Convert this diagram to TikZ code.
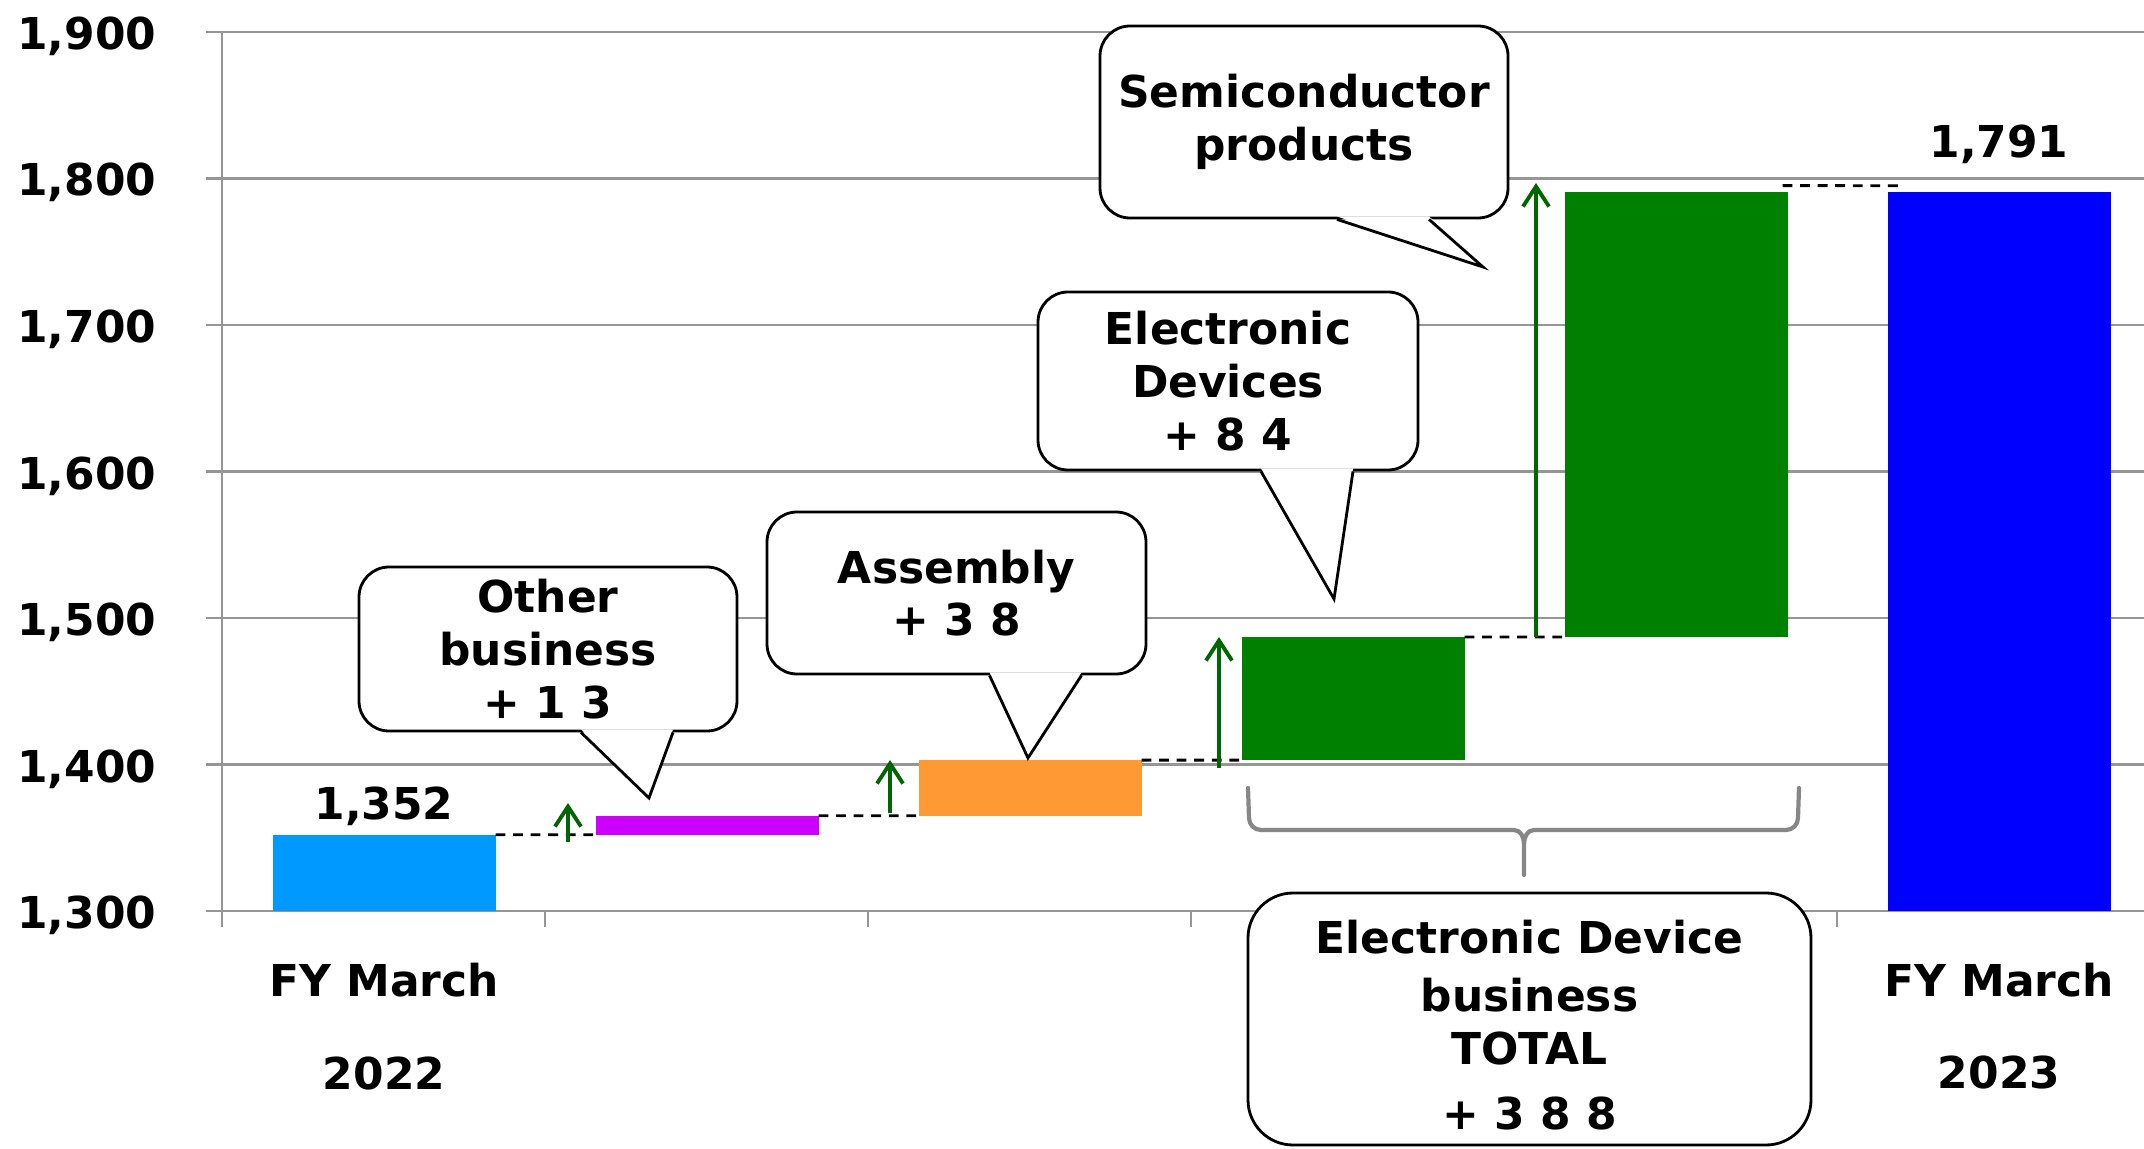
\documentclass[tikz,border=0pt]{standalone}
\usepackage{fontspec}
\setmainfont{DejaVu Sans}
\usepackage{tikz}
\usetikzlibrary{arrows.meta,positioning}
\definecolor{gridgray}{RGB}{150,150,150}
\definecolor{bracegray}{RGB}{135,135,135}
\definecolor{startblue}{RGB}{0,153,255}
\definecolor{othermag}{RGB}{204,0,255}
\definecolor{asmorange}{RGB}{255,153,51}
\definecolor{devgreen}{RGB}{0,128,0}
\definecolor{endblue}{RGB}{0,0,255}
\definecolor{risegreen}{RGB}{0,102,0}

% pointer of a speech bubble: box #1, tip #2
\newcommand{\calltip}[2]{%
  \fill[white] ([shift={(0.33,0.03)}]#1.south) -- (#2) -- ([shift={(1.25,0.03)}]#1.south) -- cycle;
  \draw[bline] ([xshift=3.3mm]#1.south) -- (#2) -- ([xshift=12.5mm]#1.south);}

\begin{document}
\begin{tikzpicture}[
  font=\fontsize{12.5}{15}\selectfont\bfseries,
  grid/.style={draw=gridgray,line width=0.6pt},
  bar/.style={anchor=south west,minimum width=2.23cm,inner sep=0pt,outer sep=0pt},
  link/.style={line width=0.8pt,dash pattern=on 2.8pt off 2.2pt},
  rise/.style={risegreen,line width=1.1pt,-{Straight Barb[length=2mm,width=2.6mm]}},
  bline/.style={line width=0.8pt,line join=miter},
  bubble/.style={draw,bline,fill=white,rounded corners=3mm,align=center,inner sep=0pt},
  brace/.style={bracegray,line width=1.2pt,line cap=round},
  lbl/.style={anchor=base,inner sep=0pt},
  ]
  \useasboundingbox (0,0) rectangle (21.44,11.48);
  % grid, axis
  \foreach \i/\t in {0/{1,300},1/{1,400},2/{1,500},3/{1,600},4/{1,700},5/{1,800},6/{1,900}}{
    \draw[grid] (2.06,2.37+1.465*\i) -- (21.44,2.37+1.465*\i);
    \node[anchor=base east,inner sep=0pt] (y\i) at (1.57,2.195+1.465*\i) {\t};
  }
  \draw[grid] (2.22,2.21) -- (2.22,11.165);
  \foreach \x in {5.45,8.68,11.91,15.14,18.37}
    \draw[grid] (\x,2.37) -- (\x,2.21);

  \node[bar,fill=startblue,minimum height=0.762cm] (b1) at (2.725,2.37) {};
  \node[bar,fill=othermag,minimum height=0.190cm]  (b2) at (5.955,3.132) {};
  \node[bar,fill=asmorange,minimum height=0.557cm] (b3) at (9.185,3.322) {};
  \node[bar,fill=devgreen,minimum height=1.231cm]  (b4) at (12.415,3.879) {};
  \node[bar,fill=devgreen,minimum height=4.454cm]  (b5) at (15.645,5.110) {};
  \node[bar,fill=endblue,minimum height=7.193cm]   (b6) at (18.875,2.37) {};

  \draw[link] (b1.north east) -- (b2.south west);
  \draw[link] (b2.north east) -- (b3.south west);
  \draw[link] (b3.north east) -- (b4.south west);
  \draw[link] (b4.north east) -- (b5.south west);
  \draw[link] ([shift={(-0.5mm,0.6mm)}]b5.north east) -- ([shift={(1.2mm,0.6mm)}]b6.north west);

  \coordinate (r1a) at (5.68,3.06);  \coordinate (r1b) at (5.68,3.45);
  \coordinate (r2a) at (8.90,3.35);  \coordinate (r2b) at (8.90,3.88);
  \coordinate (r3a) at (12.19,3.80); \coordinate (r3b) at (12.19,5.11);
  \coordinate (r4a) at (15.36,5.11); \coordinate (r4b) at (15.36,9.65);
  \draw[rise] (r1a) -- (r1b);
  \draw[rise] (r2a) -- (r2b);
  \draw[rise] (r3a) -- (r3b);
  \draw[rise] (r4a) -- (r4b);

  \node[lbl] (v1) at ([yshift=1.5mm]b1.north) {1,352};
  \node[lbl] (v6) at ([yshift=3.4mm]b6.north) {1,791};
  \node[lbl] (fy1) at (3.84,1.513) {FY March};
  \node[lbl] (yr1) at (3.84,0.583) {2022};
  \node[lbl] (fy2) at (19.99,1.513) {FY March};
  \node[lbl] (yr2) at (19.99,0.60) {2023};

  % brace under the device bars
  \draw[brace] (12.48,3.60) -- (12.49,3.30) to[out=-90,in=180] (12.61,3.18) -- (15.14,3.18)
    to[out=0,in=90] (15.24,3.04) -- (15.24,2.73);
  \draw[brace] (17.99,3.60) -- (17.98,3.30) to[out=-90,in=0] (17.86,3.18) -- (15.34,3.18)
    to[out=180,in=90] (15.24,3.04);

  \node[bubble,minimum width=3.78cm,minimum height=1.64cm] (other) at (5.48,4.99) {Other\\business\\+ 1 3};
  \coordinate (otherTip) at (6.49,3.50);
  \calltip{other}{otherTip}
  \node[bubble,minimum width=3.79cm,minimum height=1.62cm] (asm) at (9.565,5.55) {Assembly\\+ 3 8};
  \coordinate (asmTip) at (10.28,3.90);
  \calltip{asm}{asmTip}
  \node[bubble,minimum width=3.80cm,minimum height=1.78cm] (dev) at (12.28,7.67) {Electronic\\Devices\\+ 8 4};
  \coordinate (devTip) at (13.34,5.49);
  \calltip{dev}{devTip}
  \node[bubble,minimum width=4.08cm,minimum height=1.92cm] (semi) at (13.04,10.26) {Semiconductor\\products};
  \coordinate (semiTip) at (14.83,8.81);
  \calltip{semi}{semiTip}
  \node[bubble,rounded corners=4.5mm,minimum width=5.63cm,minimum height=2.52cm] (total) at (15.295,1.29)
    {\rule{0pt}{4.6mm}Electronic Device\\[1.5pt]business\\TOTAL\\[3.5pt]+ 3 8 8};
\end{tikzpicture}
\end{document}
